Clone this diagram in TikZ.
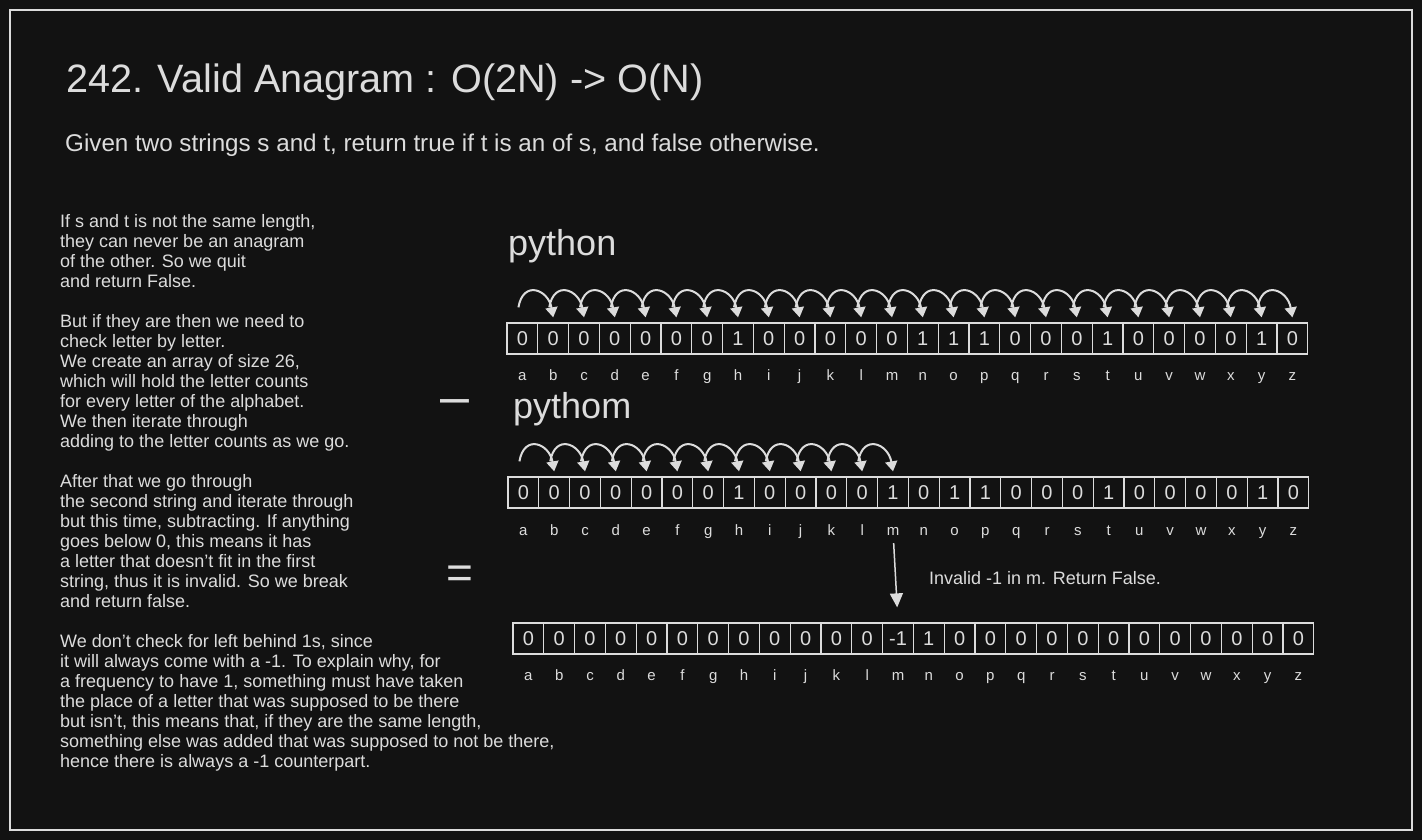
\documentclass[tikz,border=0pt]{standalone}
\usepackage{fontspec}
\setmainfont{Liberation Sans}
\usetikzlibrary{arrows.meta}
\definecolor{board}{HTML}{121212}
\definecolor{chalk}{HTML}{DCDCDC}
\tikzset{
  cell/.style={draw=chalk,line width=1.3pt,minimum width=30.8pt,minimum height=31pt,inner sep=0pt,text=chalk,font=\fontsize{20}{20}\selectfont},
  letter/.style={text=chalk,anchor=base,inner sep=0pt,font=\fontsize{15}{15}\selectfont},
  hop/.style={draw=chalk,line width=2pt,-{Triangle[length=10pt,width=12pt]}},
  note/.style={text=chalk,anchor=north west,align=left,inner sep=0pt,font=\fontsize{18}{20}\selectfont},
}
\begin{document}
\begin{tikzpicture}[x=1pt,y=-1pt]
    \fill[board] (0,0) rectangle (1422,840);
    \draw[chalk,line width=2pt] (10,10) rectangle (1412,830);
    \node[note,anchor=west,font=\fontsize{39.6}{39.6}\selectfont] (title) at (66,82) {242. Valid Anagram : O(2N) -> O(N)};
    \node[note,anchor=west,font=\fontsize{24.2}{24.2}\selectfont] (task) at (65,145) {Given two strings s and t, return true if t is an of s, and false otherwise.};
    \node[note] (para1) at (60,214) {If s and t is not the same length,\\they can never be an anagram\\of the other. So we quit\\and return False.};
    \node[note] (para2) at (60,314) {But if they are then we need to\\check letter by letter.\\We create an array of size 26,\\which will hold the letter counts\\for every letter of the alphabet.\\We then iterate through\\adding to the letter counts as we go.};
    \node[note] (para3) at (60,474) {After that we go through\\the second string and iterate through\\but this time, subtracting. If anything\\goes below 0, this means it has\\a letter that doesn't fit in the first\\string, thus it is invalid. So we break\\and return false.};
    \node[note] (para4) at (60,634) {We don't check for left behind 1s, since\\it will always come with a -1. To explain why, for\\a frequency to have 1, something must have taken\\the place of a letter that was supposed to be there\\but isn't, this means that, if they are the same length,\\something else was added that was supposed to not be there,\\hence there is always a -1 counterpart.};
    \node[note,anchor=west,font=\fontsize{36}{36}\selectfont] (word1) at (508,246) {python};
    \node[note,anchor=west,font=\fontsize{36}{36}\selectfont] (word2) at (513,409) {pythom};
    \node[note,anchor=center,font=\fontsize{52}{52}\selectfont] (minus) at (455,407) {–};
    \node[note,anchor=center,font=\fontsize{46}{46}\selectfont] (equals) at (460,577) {=};
    \foreach \v [count=\i] in {0,0,0,0,0,0,0,1,0,0,0,0,0,1,1,1,0,0,0,1,0,0,0,0,1,0}
      \node[cell] (a1-\i) at ({522.4+(\i-1)*30.8},338.5) {\v};
    \foreach \v [count=\i] in {0,0,0,0,0,0,0,1,0,0,0,0,1,0,1,1,0,0,0,1,0,0,0,0,1,0}
      \node[cell] (a2-\i) at ({523.4+(\i-1)*30.8},492.5) {\v};
    \foreach \v [count=\i] in {0,0,0,0,0,0,0,0,0,0,0,0,-1,1,0,0,0,0,0,0,0,0,0,0,0,0}
      \node[cell] (a3-\i) at ({528.4+(\i-1)*30.8},638.5) {\v};
    \foreach \l [count=\i] in {a,...,z} {
      \node[letter] (l1-\i) at ({522.4+(\i-1)*30.8},380) {\l};
      \node[letter] (l2-\i) at ({523.4+(\i-1)*30.8},535) {\l};
      \node[letter] (l3-\i) at ({528.4+(\i-1)*30.8},680) {\l};
    }
    \foreach \i [evaluate=\i as \j using int(\i+1)] in {1,...,25}
      \draw[hop] ([xshift=-4pt,yshift=15pt]a1-\i.north) to[out=80,in=100,looseness=2] ([yshift=5pt]a1-\j.north);
    \foreach \i [evaluate=\i as \j using int(\i+1)] in {1,...,12}
      \draw[hop] ([xshift=-4pt,yshift=15pt]a2-\i.north) to[out=80,in=100,looseness=2] ([yshift=5pt]a2-\j.north);
    \draw[hop,line width=1.5pt,-{Triangle[length=14pt,width=13pt]},shorten <=8pt,shorten >=15pt] (l2-13) -- (a3-13.north);
    \node[note,anchor=west] (verdict) at (929,578) {Invalid -1 in m. Return False.};
\end{tikzpicture}
\end{document}
